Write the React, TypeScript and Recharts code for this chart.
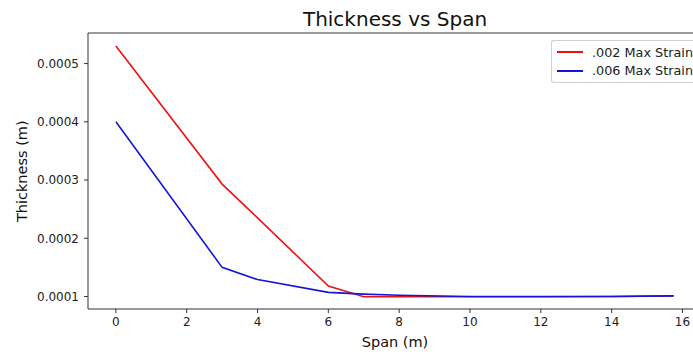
import { LineChart, Line, XAxis, YAxis, ReferenceLine } from 'recharts';

const spans = [0, 3, 4, 6, 7, 8, 10, 12, 14, 15.75];
const strain002 = [0.00053, 0.000293, 0.000235, 0.000118, 0.0000995, 0.0000995, 0.0000995, 0.0000995, 0.0001, 0.000101];
const strain006 = [0.0004, 0.00015, 0.000129, 0.000107, 0.000104, 0.000102, 0.0001, 0.0001, 0.0001, 0.000101];
const xTicks = [0, 2, 4, 6, 8, 10, 12, 14, 16];
const yTicks = [0.0001, 0.0002, 0.0003, 0.0004, 0.0005];

const RED = '#ee1313';
const BLUE = '#1414dd';
const FONT = '"DejaVu Sans", sans-serif';

const X_DOMAIN: [number, number] = [-0.7875, 16.5375];
const Y_DOMAIN: [number, number] = [0.0000785, 0.0005525];

const series = [
  { key: 's002', name: '.002 Max Strain', color: RED },
  { key: 's006', name: '.006 Max Strain', color: BLUE },
];

const chartData = spans.map((span, i) => ({
  span,
  s002: strain002[i],
  s006: strain006[i],
}));

// matplotlib-like legend box, placed over the plot's top-right corner (cut off by the frame)
function LegendBox() {
  return (
    <div
      style={{
        position: 'absolute', top: 40, left: 551, width: 140, height: 37,
        borderTop: '1px solid #d0d0d0',
        borderLeft: '1px solid #d0d0d0',
        borderBottom: '1px solid #d0d0d0',
        borderRadius: '3px 0 0 3px',
        background: 'rgba(255,255,255,0.8)',
        padding: '2px 0 2px 5px',
        fontFamily: FONT,
        fontSize: 12.8,
        color: '#222',
      }}
    >
      {series.map((s) => (
        <div key={s.key} style={{ display: 'flex', alignItems: 'center', height: 18.5 }}>
          <span style={{ display: 'inline-block', flex: 'none', width: 26, height: 2, background: s.color, marginRight: 9 }} />
          <span style={{ whiteSpace: 'nowrap' }}>{s.name}</span>
        </div>
      ))}
    </div>
  );
}

export default function App() {
  const tickStyle = { fill: '#222', fontSize: 12, fontFamily: FONT };
  const textBase = { position: 'absolute' as const, fontFamily: FONT, color: '#111', whiteSpace: 'nowrap' as const };
  return (
    <div style={{ position: 'fixed', top: 0, left: 0, width: 693, height: 354, overflow: 'hidden', background: '#fff' }}>
      <div style={{ position: 'absolute', top: 0, left: 0, width: 693, height: 354, overflow: 'hidden' }}>
        <LineChart width={702} height={354} data={chartData} margin={{ top: 33, right: 0.5, bottom: 0, left: 0 }}>
          <XAxis
            dataKey="span"
            type="number"
            domain={X_DOMAIN}
            ticks={xTicks}
            allowDataOverflow
            height={45}
            stroke="#333"
            tickSize={4}
            tickMargin={4}
            tick={tickStyle}
          />
          <YAxis
            type="number"
            domain={Y_DOMAIN}
            ticks={yTicks}
            allowDataOverflow
            width={88}
            stroke="#333"
            tickSize={4}
            tickMargin={5}
            tick={tickStyle}
            tickFormatter={(v: number) => v.toFixed(4)}
          />
          <ReferenceLine y={Y_DOMAIN[1]} stroke="#333" />
          {series.map((s) => (
            <Line
              key={s.key}
              type="linear"
              dataKey={s.key}
              name={s.name}
              stroke={s.color}
              strokeWidth={1.6}
              dot={false}
              activeDot={false}
              isAnimationActive={false}
            />
          ))}
        </LineChart>
      </div>
      <div style={{ ...textBase, top: 9, left: 295, width: 200, textAlign: 'center', fontSize: 20, lineHeight: '20px' }}>
        Thickness vs Span
      </div>
      <div style={{ ...textBase, top: 335, left: 345, width: 100, textAlign: 'center', fontSize: 14.5, lineHeight: '14.5px' }}>
        Span (m)
      </div>
      <div
        style={{
          ...textBase, top: 171 - 7.25, left: 22 - 60, width: 120, textAlign: 'center',
          fontSize: 14.5, lineHeight: '14.5px', transform: 'rotate(-90deg)',
        }}
      >
        Thickness (m)
      </div>
      <LegendBox />
    </div>
  );
}
